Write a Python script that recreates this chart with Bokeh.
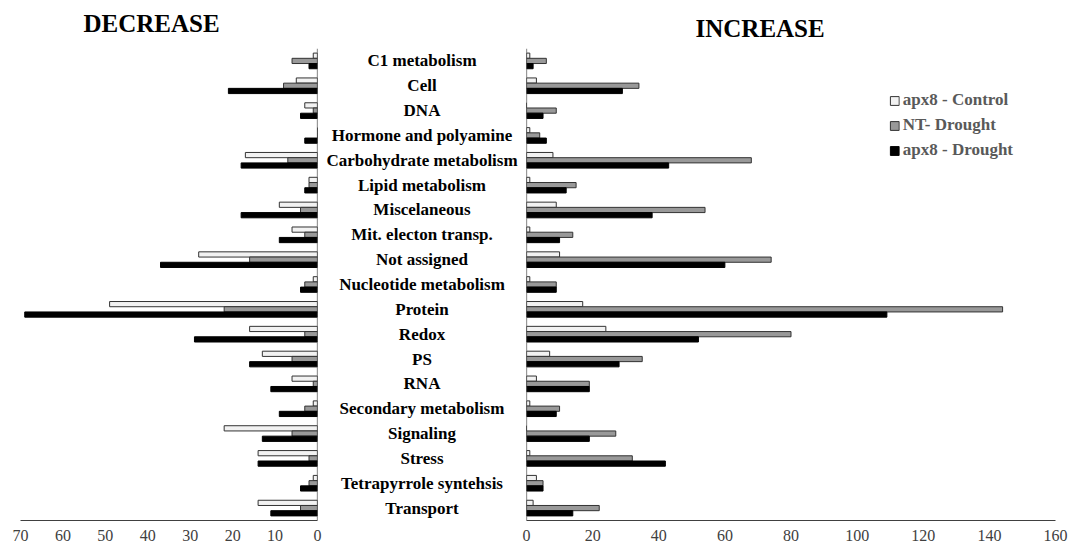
from bokeh.plotting import figure
from bokeh.layouts import row
from bokeh.models import Range1d, Span, FixedTicker, ColumnDataSource
from bokeh.transform import dodge
from bokeh.embed import file_html
from bokeh.resources import INLINE
from bokeh.core.properties import value

categories = ["C1 metabolism", "Cell", "DNA", "Hormone and polyamine", "Carbohydrate metabolism",
              "Lipid metabolism", "Miscelaneous", "Mit. electon transp.", "Not assigned",
              "Nucleotide metabolism", "Protein", "Redox", "PS", "RNA", "Secondary metabolism",
              "Signaling", "Stress", "Tetrapyrrole syntehsis", "Transport"]

series = ["apx8 - Control", "NT- Drought", "apx8 - Drought"]

dec_control = [1, 5, 3, 0, 17, 2, 9, 6, 28, 1, 49, 16, 13, 6, 1, 22, 14, 1, 14]
dec_nt = [6, 8, 1, 0, 7, 2, 4, 3, 16, 3, 22, 3, 6, 1, 3, 6, 2, 2, 4]
dec_apx8 = [2, 21, 4, 3, 18, 3, 18, 9, 37, 4, 69, 29, 16, 11, 9, 13, 14, 4, 11]

inc_control = [1, 3, 0, 1, 8, 1, 9, 1, 10, 1, 17, 24, 7, 3, 1, 0, 1, 3, 2]
inc_nt = [6, 34, 9, 4, 68, 15, 54, 14, 74, 9, 144, 80, 35, 19, 10, 27, 32, 5, 22]
inc_apx8 = [2, 29, 5, 6, 43, 12, 38, 10, 60, 9, 109, 52, 28, 19, 9, 19, 42, 5, 14]

dec_ticks = [0, 10, 20, 30, 40, 50, 60, 70]
inc_ticks = [0, 20, 40, 60, 80, 100, 120, 140, 160]

FONT = "Liberation Serif"
fills = ["#f2f2f2", "#999999", "#000000"]
lines = ["#333333", "#333333", "#000000"]
offsets = [-0.21, 0.0, 0.21]
BAR_H = 0.21

idx = list(range(len(categories)))
src = ColumnDataSource(dict(y=idx, cat=categories,
                            dc=dec_control, dn=dec_nt, da=dec_apx8,
                            ic=inc_control, inn=inc_nt, ia=inc_apx8))

y_range = Range1d(len(categories) - 0.5, -0.5)
FH = 472


def base_fig(width, x_range, bl, br):
    p = figure(width=width, height=549, frame_height=FH, x_range=x_range, y_range=y_range,
               output_backend="svg", toolbar_location=None,
               min_border_left=bl, min_border_right=br, min_border_top=48, min_border_bottom=29)
    p.outline_line_color = None
    p.xgrid.visible = False
    p.ygrid.visible = False
    p.yaxis.visible = False
    p.background_fill_color = "white"
    p.border_fill_color = "white"
    return p


def style_xaxis(p, ticks):
    ax = p.xaxis[0]
    ax.ticker = FixedTicker(ticks=ticks)
    ax.major_tick_in = 0
    ax.major_tick_out = 0
    ax.minor_tick_in = 0
    ax.minor_tick_out = 0
    ax.axis_line_color = "#404040"
    ax.axis_line_width = 1
    ax.major_label_text_font = FONT
    ax.major_label_text_font_size = "16px"
    ax.major_label_text_color = "#404040"
    ax.major_label_standoff = 9


def style_title(p, text, offset, standoff, valign):
    p.title.text = text
    p.title.text_font = FONT
    p.title.text_font_size = "25px"
    p.title.text_font_style = "bold"
    p.title.text_color = "black"
    p.title.align = "left"
    p.title.vertical_align = valign
    p.title.offset = offset
    p.title.standoff = standoff


# Left panel (decrease)
left = base_fig(323, Range1d(70, 0), 20, 6)
for col, off, fc, lc in zip(["dc", "dn", "da"], offsets, fills, lines):
    left.hbar(y=dodge("y", off, range=y_range), left=0, right=col, height=BAR_H,
              fill_color=fc, line_color=lc, line_width=1, source=src)
left.add_layout(Span(location=0, dimension="height", line_color="#333333", line_width=1.2))
style_xaxis(left, dec_ticks)
style_title(left, "DECREASE", 63, 19, "top")

# Middle labels
mid = figure(width=197, height=549, frame_height=FH, x_range=Range1d(-1, 1), y_range=y_range,
             output_backend="svg", toolbar_location=None,
             min_border_left=0, min_border_right=0, min_border_top=48, min_border_bottom=29)
mid.outline_line_color = None
mid.xgrid.visible = False
mid.ygrid.visible = False
mid.xaxis.visible = False
mid.yaxis.visible = False
mid.text(x=0, y="y", text="cat", source=src,
         text_align="center", text_baseline="middle",
         text_font=value(FONT), text_font_size="17px", text_font_style="bold", text_color="black")

# Right panel (increase)
right = base_fig(552, Range1d(0, 160), 6, 17)
for col, off, fc, lc, lab in zip(["ic", "inn", "ia"], offsets, fills, lines, series):
    right.hbar(y=dodge("y", off, range=y_range), left=0, right=col, height=BAR_H,
               fill_color=fc, line_color=lc, line_width=1, source=src, legend_label=lab)
right.add_layout(Span(location=0, dimension="height", line_color="#333333", line_width=1.2))
style_xaxis(right, inc_ticks)
style_title(right, "INCREASE", 169, 14, "bottom")

lg = right.legend[0]
lg.location = "top_right"
lg.margin = 42
lg.padding = 0
lg.border_line_color = None
lg.background_fill_alpha = 0
lg.label_text_font = FONT
lg.label_text_font_size = "17px"
lg.label_text_font_style = "bold"
lg.label_text_color = "#595959"
lg.glyph_width = 11
lg.glyph_height = 11
lg.label_standoff = 3
lg.spacing = 5

layout = row(left, mid, right, spacing=0)
open("out.html", "w").write(file_html(layout, INLINE))
